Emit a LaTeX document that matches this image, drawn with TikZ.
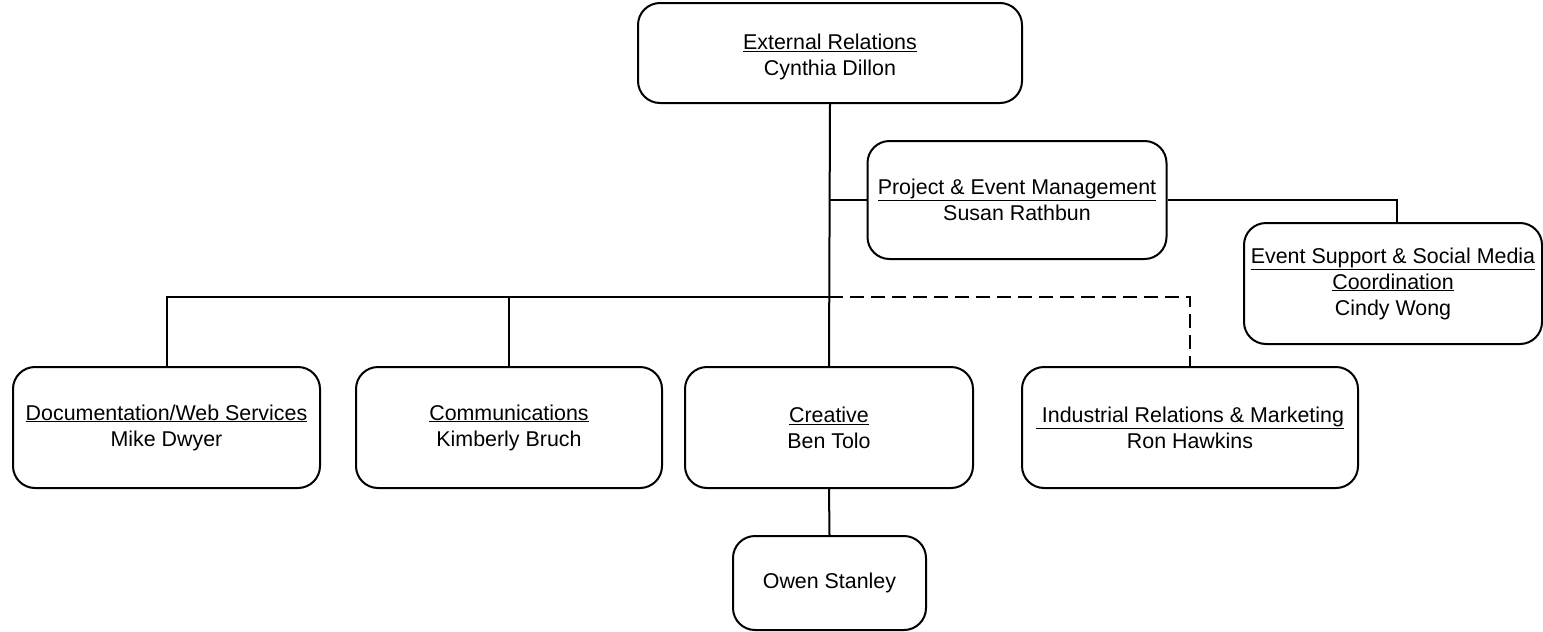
\documentclass[tikz,border=0pt]{standalone}
\usepackage{fontspec}
\setmainfont{Liberation Sans}
\newcommand{\lowr}[1]{\raisebox{-4pt}[\height][\depth]{#1}}
\begin{document}
\begin{tikzpicture}[x=1pt,y=-1pt,
  box/.style 2 args={draw, line width=2pt, rounded corners=22pt, minimum width=#1, minimum height=#2, inner sep=0pt, align=center, font=\fontsize{21.4}{26}\selectfont},
  conn/.style={line width=2pt},
  dconn/.style={line width=2pt, dash pattern=on 14pt off 7pt}]
\useasboundingbox (0,0) rectangle (1543,632);
\node[box={384pt}{100pt}] (ext) at (830,53) {\lowr{\underline{External Relations}}\\\lowr{Cynthia Dillon}};
\node[box={299pt}{118pt}] (pem) at (1017,200) {\underline{Project \& Event Management}\\Susan Rathbun};
\node[box={298pt}{121pt}] (ess) at (1393,283.5) {\underline{Event Support \& Social Media}\\\underline{Coordination}\\Cindy Wong};
\node[box={307pt}{121pt}] (doc) at (166.5,427.5) {\underline{Documentation/Web Services}\\Mike Dwyer};
\node[box={306pt}{121pt}] (com) at (509,427.5) {\underline{Communications}\\Kimberly Bruch};
\node[box={288pt}{121pt}] (cre) at (829,427.5) {\underline{Creative}\\Ben Tolo};
\node[box={336pt}{121pt}] (ind) at (1190,427.5) {\underline{\ Industrial Relations \& Marketing}\\Ron Hawkins};
\node[box={193pt}{94pt}] (own) at (829.5,583) {Owen Stanley};
\coordinate (bus) at (829,297);
\draw[conn] (ext.south) -- (cre.north);
\draw[conn] (doc.north) |- (bus);
\draw[conn] (com.north) -- (com.north |- bus);
\draw[dconn] (bus) -| (ind.north);
\draw[conn] (pem.west) -- (pem.west -| cre.north);
\draw[conn] (pem.east) -| ([xshift=4pt]ess.north);
\draw[conn] (cre.south) -- (own.north);
\end{tikzpicture}
\end{document}
